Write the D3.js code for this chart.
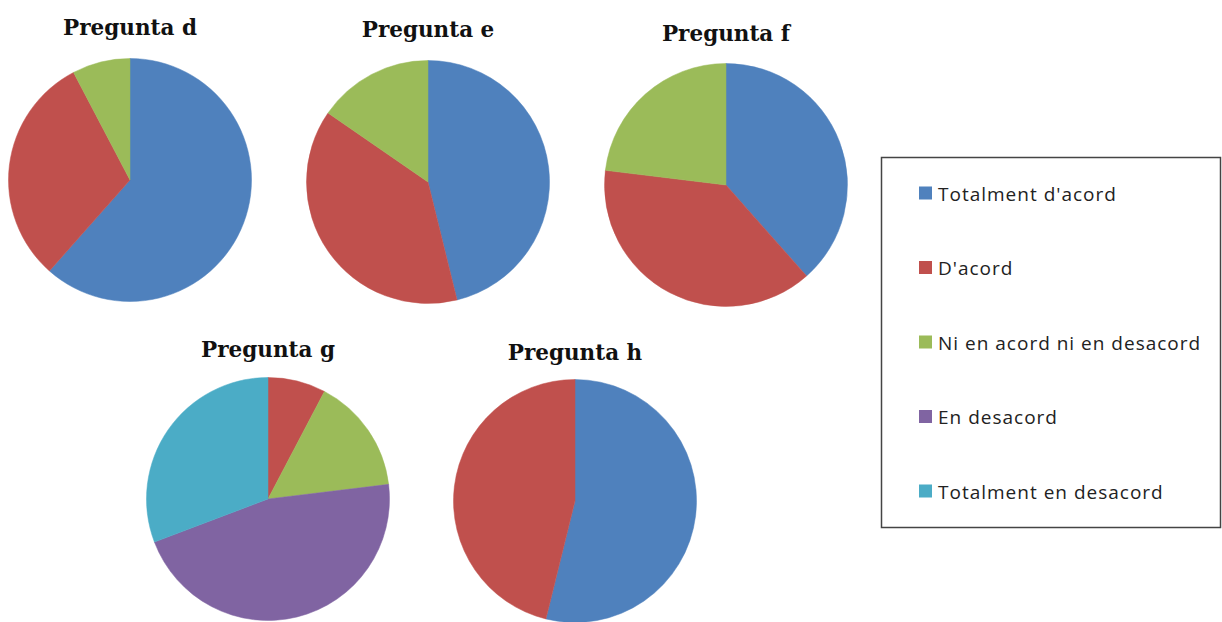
<!DOCTYPE html>
<html>
<head>
<meta charset="utf-8">
<script src="https://cdn.jsdelivr.net/npm/d3@7"></script>
<style>
  html, body { margin: 0; padding: 0; background: #fff; }
  svg { display: block; }
</style>
</head>
<body>
<svg id="chart" width="1222" height="622"></svg>
<script>
// Response categories (legend order)
const categories = ["Totalment d'acord", "D'acord", "Ni en acord ni en desacord", "En desacord", "Totalment en desacord"];
const colors = ["#4F81BD", "#C0504D", "#9BBB59", "#8064A2", "#4BACC6"];

// Question titles and answer counts per category
const questions = ["Pregunta d", "Pregunta e", "Pregunta f", "Pregunta g", "Pregunta h"];
const valuesD = [8, 4, 1, 0, 0];
const valuesE = [6, 5, 2, 0, 0];
const valuesF = [5, 5, 3, 0, 0];
const valuesG = [0, 1, 2, 6, 4];
const valuesH = [7, 6, 0, 0, 0];
const seriesValues = [valuesD, valuesE, valuesF, valuesG, valuesH];

// Layout of each pie: centre and title baseline
const layout = [
  { cx: 130, cy: 180, ty: 35 },
  { cx: 428, cy: 182, ty: 37 },
  { cx: 726, cy: 185, ty: 41 },
  { cx: 268, cy: 499, ty: 357 },
  { cx: 575, cy: 501, ty: 360 }
];
const radius = 121.5;

const svg = d3.select("#chart");
const color = d3.scaleOrdinal().domain(d3.range(categories.length)).range(colors);
const pie = d3.pie().sort(null).value(d => d.v);
const arc = d3.arc().innerRadius(0).outerRadius(radius);

questions.forEach((q, i) => {
  const pos = layout[i];
  const data = seriesValues[i].map((v, k) => ({ v, k }));
  const g = svg.append("g").attr("transform", `translate(${pos.cx},${pos.cy})`);
  g.selectAll("path")
    .data(pie(data).filter(d => d.data.v > 0))
    .join("path")
    .attr("d", arc)
    .attr("fill", d => color(d.data.k))
    .attr("stroke", d => color(d.data.k))
    .attr("stroke-width", 0.5);

  svg.append("text")
    .attr("x", pos.cx)
    .attr("y", pos.ty)
    .attr("text-anchor", "middle")
    .attr("font-family", "'DejaVu Serif', serif")
    .attr("font-weight", "bold")
    .attr("font-size", 21.5)
    .attr("fill", "#111")
    .text(q);
});

// Legend
const legend = svg.append("g");
legend.append("rect")
  .attr("x", 881.5).attr("y", 157.5)
  .attr("width", 339).attr("height", 370)
  .attr("fill", "#fff")
  .attr("stroke", "#444").attr("stroke-width", 1.5);

const ly = d3.scalePoint().domain(categories).range([193, 491]);
const items = legend.selectAll("g.item")
  .data(categories)
  .join("g")
  .attr("class", "item")
  .attr("transform", d => `translate(919,${ly(d)})`);
items.append("rect")
  .attr("x", 0).attr("y", -6.5)
  .attr("width", 13).attr("height", 13)
  .attr("fill", (d, i) => colors[i]);
items.append("text")
  .attr("x", 19).attr("y", 7.5)
  .attr("font-family", "'Open Sans', sans-serif")
  .attr("font-size", 19)
  .attr("letter-spacing", 1)
  .attr("fill", "#222")
  .text(d => d);
</script>
</body>
</html>
